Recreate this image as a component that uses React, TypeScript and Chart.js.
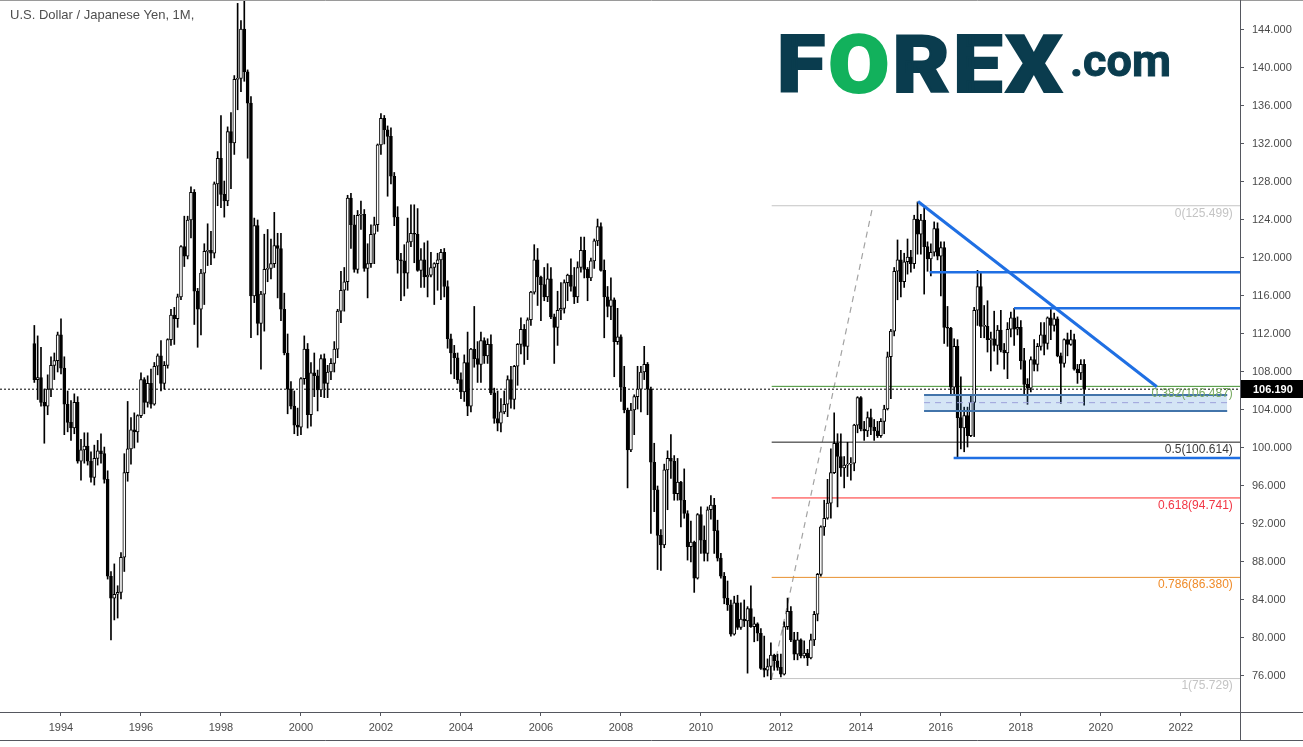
import React, { useEffect, useRef } from 'react';
import { Chart, registerables } from 'chart.js';

Chart.register(...registerables);

// ---------- Data: USD/JPY monthly candles, May 1993 - Aug 2019 ----------
const FIRST_YEAR = 1993;
const FIRST_MONTH = 5;

const open = [
  111.0, 107.2, 107.4, 104.8, 104.4, 106.2, 108.7, 109.2, // 1993
  111.9, 108.4, 104.6, 102.7, 102.1, 104.8, 98.6, 99.8, 100.2, 98.6, 96.9, 98.9, // 1994
  99.7, 99.4, 96.7, 86.5, 84.2, 84.6, 84.8, 88.5, 97.4, 99.9, 101.9, 101.7, // 1995
  103.4, 107.2, 104.8, 106.8, 104.6, 108.6, 109.7, 106.8, 108.7, 111.4, 114.0, 113.6, // 1996
  115.9, 121.2, 120.2, 124.0, 126.9, 116.5, 114.6, 118.4, 120.7, 120.8, 120.5, 127.8, // 1997
  130.5, 126.7, 126.0, 133.3, 132.1, 138.8, 138.9, 144.1, 139.6, 136.3, 116.0, 123.4, // 1998
  113.1, 116.2, 118.8, 118.9, 119.4, 121.3, 121.0, 114.6, 110.0, 106.2, 104.4, 102.4, // 1999
  102.2, 107.3, 110.4, 103.5, 107.9, 107.6, 106.1, 109.4, 106.8, 108.0, 108.9, 110.4, // 2000
  114.4, 116.6, 117.5, 126.3, 123.5, 118.8, 124.5, 124.6, 118.9, 119.4, 122.5, 123.5, // 2001
  131.9, 134.7, 133.5, 132.8, 128.6, 124.3, 119.8, 119.7, 118.4, 121.7, 122.6, 122.5, // 2002
  118.7, 119.8, 118.0, 118.2, 119.0, 119.4, 119.8, 120.6, 117.0, 111.5, 110.0, 109.5, // 2003
  107.2, 105.9, 109.0, 104.4, 110.4, 109.4, 108.8, 111.3, 109.7, 110.9, 105.8, 103.1, // 2004
  102.6, 103.8, 104.6, 107.2, 105.1, 108.6, 110.9, 112.5, 110.7, 113.5, 116.4, 119.8, // 2005
  118.0, 117.2, 115.9, 117.8, 113.8, 112.7, 114.5, 114.7, 117.4, 118.2, 117.0, 115.9, // 2006
  119.0, 120.8, 118.8, 117.9, 119.7, 121.8, 123.3, 118.7, 115.9, 114.9, 115.6, 111.2, // 2007
  111.7, 106.4, 104.0, 99.8, 104.0, 105.4, 106.2, 108.0, 108.8, 106.2, 98.5, 95.6, // 2008
  90.8, 89.8, 97.7, 98.9, 98.6, 95.2, 96.4, 94.5, 93.1, 89.6, 90.1, 86.3, // 2009
  93.0, 90.3, 88.9, 93.5, 94.0, 91.3, 88.4, 86.5, 84.2, 83.5, 80.4, 83.7, // 2010
  81.1, 82.0, 81.8, 83.1, 81.2, 81.5, 80.5, 76.8, 76.6, 77.0, 78.2, 77.6, // 2011
  76.9, 76.2, 81.2, 82.8, 79.8, 78.3, 79.8, 78.1, 78.4, 77.9, 79.8, 82.5, // 2012
  86.7, 91.7, 92.6, 94.2, 97.4, 100.5, 99.1, 97.9, 98.2, 98.3, 98.4, 102.4, // 2013
  105.3, 102.0, 101.8, 103.2, 102.2, 101.8, 101.3, 102.8, 104.1, 109.6, 112.3, 118.6, // 2014
  119.8, 117.5, 119.6, 120.1, 119.4, 124.1, 122.5, 124.0, 121.2, 119.9, 120.6, 123.1, // 2015
  120.2, 121.1, 112.7, 112.6, 106.4, 110.7, 103.2, 102.1, 103.4, 101.3, 104.8, 114.5, // 2016
  117.0, 112.8, 112.8, 111.4, 111.5, 110.8, 112.4, 110.3, 110.0, 112.5, 113.7, 112.5, // 2017
  112.7, 109.2, 106.7, 106.3, 109.3, 108.8, 110.7, 111.9, 111.0, 113.7, 112.9, 113.6, // 2018
  109.7, 108.9, 111.4, 110.9, 111.4, 108.3, 107.9, 108.8, // 2019
];

const high = [
  112.9, 111.8, 110.6, 106.2, 107.7, 109.6, 110.0, 112.2, // 1993
  113.6, 109.6, 106.0, 105.0, 105.7, 105.4, 100.9, 101.6, 101.6, 99.6, 100.3, 100.8, // 1994
  101.5, 100.1, 97.6, 87.0, 87.8, 85.5, 89.0, 99.4, 104.9, 103.2, 103.7, 103.5, // 1995
  107.9, 107.4, 107.6, 108.3, 109.0, 109.9, 111.3, 109.1, 111.5, 114.6, 114.8, 116.2, // 1996
  121.3, 124.4, 124.4, 127.5, 127.2, 116.8, 118.8, 121.5, 123.6, 122.8, 128.0, 131.2, // 1997
  135.0, 128.1, 133.8, 135.3, 139.2, 146.8, 145.0, 147.7, 139.8, 137.0, 124.2, 124.0, // 1998
  116.5, 122.5, 123.0, 122.0, 124.8, 122.6, 122.6, 116.3, 112.0, 107.0, 106.0, 104.2, // 1999
  107.4, 111.8, 111.0, 109.0, 110.0, 108.2, 109.8, 109.9, 108.7, 109.4, 111.2, 114.6, // 2000
  118.6, 119.0, 126.6, 126.8, 124.5, 125.0, 126.0, 125.1, 121.5, 123.5, 124.3, 132.0, // 2001
  135.2, 135.0, 133.9, 133.7, 129.0, 125.4, 120.5, 121.4, 124.2, 125.6, 125.6, 125.2, // 2002
  121.0, 121.6, 121.8, 120.6, 119.5, 120.5, 120.9, 121.0, 117.6, 112.0, 110.8, 110.0, // 2003
  107.9, 109.8, 112.2, 110.5, 114.9, 111.2, 112.2, 111.6, 111.5, 111.9, 106.3, 106.0, // 2004
  105.2, 106.0, 107.6, 108.6, 108.7, 111.0, 113.7, 113.0, 113.7, 116.5, 121.4, 121.0, // 2005
  118.1, 119.0, 119.4, 119.0, 114.1, 116.5, 117.4, 117.7, 118.3, 119.9, 119.0, 119.6, // 2006
  122.2, 122.2, 119.0, 120.0, 122.0, 124.1, 123.7, 119.8, 117.0, 117.9, 115.8, 114.7, // 2007
  111.9, 108.6, 104.2, 104.7, 105.6, 108.6, 108.6, 110.7, 109.0, 106.4, 100.5, 96.0, // 2008
  91.4, 98.3, 99.7, 101.4, 99.2, 98.9, 96.5, 97.8, 93.4, 92.3, 90.2, 93.1, // 2009
  93.8, 91.8, 93.8, 95.0, 94.7, 92.4, 88.9, 86.9, 86.0, 84.0, 84.4, 84.5, // 2010
  83.7, 84.0, 83.3, 85.5, 82.2, 81.6, 81.0, 80.2, 77.8, 79.5, 78.3, 78.3, // 2011
  78.3, 81.7, 84.2, 83.3, 80.6, 80.6, 79.9, 79.7, 78.8, 80.4, 82.8, 86.8, // 2012
  91.8, 94.5, 96.7, 99.9, 103.7, 101.5, 101.5, 99.1, 100.6, 99.0, 102.5, 105.4, // 2013
  105.4, 102.8, 103.8, 104.1, 103.0, 102.8, 103.1, 104.5, 110.1, 112.5, 119.0, 121.9, // 2014
  120.8, 120.5, 122.0, 120.8, 124.5, 125.9, 124.6, 125.3, 121.7, 121.5, 123.8, 123.7, // 2015
  121.7, 121.7, 114.9, 112.7, 111.5, 111.4, 107.5, 104.3, 104.3, 105.5, 114.8, 118.7, // 2016
  118.6, 115.0, 115.5, 112.2, 114.4, 112.9, 114.5, 111.0, 113.2, 114.3, 114.7, 113.8, // 2017
  113.4, 110.5, 107.3, 109.6, 111.4, 111.0, 113.2, 113.2, 113.8, 114.6, 114.2, 113.8, // 2018
  110.0, 111.5, 112.1, 112.4, 112.0, 108.8, 109.3, 109.3, // 2019
];

const low = [
  106.9, 105.1, 104.4, 100.5, 103.5, 105.4, 107.2, 108.0, // 1993
  107.8, 101.4, 101.7, 100.8, 101.5, 98.4, 96.6, 98.4, 98.2, 96.4, 96.1, 98.2, // 1994
  98.4, 96.3, 86.2, 79.8, 81.9, 82.1, 84.1, 87.0, 96.5, 98.3, 100.0, 100.6, // 1995
  103.2, 103.6, 104.3, 104.2, 104.5, 107.7, 106.0, 106.2, 108.4, 110.8, 110.9, 112.7, // 1996
  115.6, 119.1, 119.9, 122.1, 113.0, 110.6, 111.9, 115.1, 119.2, 119.3, 120.0, 125.5, // 1997
  125.3, 124.3, 125.5, 127.3, 130.9, 135.6, 137.5, 138.6, 130.5, 111.6, 115.3, 111.9, // 1998
  108.3, 112.3, 117.5, 117.8, 119.0, 115.8, 113.4, 109.8, 103.6, 104.1, 101.5, 101.3, // 1999
  101.4, 106.7, 102.1, 102.3, 105.4, 103.9, 105.4, 105.3, 105.3, 107.2, 108.0, 109.5, // 2000
  113.2, 114.4, 116.6, 121.0, 118.5, 118.4, 123.0, 118.6, 115.8, 119.0, 119.4, 122.8, // 2001
  130.9, 132.0, 126.5, 127.8, 123.4, 118.4, 115.5, 116.0, 116.8, 121.2, 119.5, 118.6, // 2002
  116.9, 116.9, 115.9, 118.0, 115.1, 116.6, 115.6, 115.9, 110.5, 107.8, 107.3, 106.8, // 2003
  105.2, 104.9, 103.4, 103.8, 108.5, 106.9, 106.9, 108.9, 108.9, 105.6, 102.6, 101.8, // 2004
  101.7, 103.6, 103.3, 104.2, 104.1, 106.6, 109.9, 108.8, 109.3, 112.9, 116.2, 115.0, // 2005
  113.4, 115.5, 115.4, 113.6, 108.9, 110.8, 113.5, 114.2, 115.5, 116.5, 115.2, 115.3, // 2006
  118.5, 117.9, 115.5, 117.6, 118.9, 121.3, 118.6, 111.6, 113.8, 113.5, 107.5, 110.9, // 2007
  104.9, 103.7, 95.8, 99.6, 101.4, 104.1, 103.8, 107.2, 103.5, 91.0, 93.3, 87.2, // 2008
  87.1, 89.5, 93.5, 96.8, 94.5, 94.5, 91.7, 92.6, 88.2, 88.0, 84.8, 86.2, // 2009
  88.9, 88.1, 88.1, 92.5, 88.9, 88.1, 86.3, 83.6, 82.9, 80.2, 80.3, 80.9, // 2010
  80.9, 81.2, 76.3, 81.1, 79.6, 79.7, 76.7, 75.9, 76.0, 75.6, 76.6, 76.6, // 2011
  75.9, 76.1, 80.9, 79.6, 77.7, 77.7, 77.9, 77.9, 77.1, 77.8, 79.2, 81.8, // 2012
  86.5, 90.8, 92.5, 92.6, 97.3, 93.8, 97.0, 95.8, 97.0, 96.6, 97.6, 101.6, // 2013
  101.8, 100.8, 101.2, 101.4, 100.8, 101.1, 101.1, 101.5, 104.0, 105.2, 111.8, 115.6, // 2014
  115.9, 116.9, 118.3, 118.5, 118.9, 120.4, 120.4, 116.2, 118.6, 118.1, 120.2, 119.8, // 2015
  116.0, 111.0, 110.7, 105.5, 105.6, 99.0, 99.9, 99.6, 100.1, 101.2, 101.2, 112.9, // 2016
  111.6, 111.6, 110.1, 108.1, 110.2, 108.8, 110.1, 108.3, 107.3, 111.7, 110.8, 111.9, // 2017
  108.3, 105.6, 104.6, 105.9, 108.1, 108.1, 110.3, 109.8, 110.4, 111.4, 112.3, 109.6, // 2018
  104.7, 108.5, 109.7, 110.8, 108.2, 106.8, 107.2, 104.5, // 2019
];

const close = [
  107.2, 107.4, 104.8, 104.4, 106.2, 108.7, 109.2, 111.9, // 1993
  108.4, 104.6, 102.7, 102.1, 104.8, 98.6, 99.8, 100.2, 98.6, 96.9, 98.9, 99.7, // 1994
  99.4, 96.7, 86.5, 84.2, 84.6, 84.8, 88.5, 97.4, 99.9, 101.9, 101.7, 103.4, // 1995
  107.2, 104.8, 106.8, 104.6, 108.6, 109.7, 106.8, 108.7, 111.4, 114.0, 113.6, 115.9, // 1996
  121.2, 120.2, 124.0, 126.9, 116.5, 114.6, 118.4, 120.7, 120.8, 120.5, 127.8, 130.5, // 1997
  126.7, 126.0, 133.3, 132.1, 138.8, 138.9, 144.1, 139.6, 136.3, 116.0, 123.4, 113.1, // 1998
  116.2, 118.8, 118.9, 119.4, 121.3, 121.0, 114.6, 110.0, 106.2, 104.4, 102.4, 102.2, // 1999
  107.3, 110.4, 103.5, 107.9, 107.6, 106.1, 109.4, 106.8, 108.0, 108.9, 110.4, 114.4, // 2000
  116.6, 117.5, 126.3, 123.5, 118.8, 124.5, 124.6, 118.9, 119.4, 122.5, 123.5, 131.9, // 2001
  134.7, 133.5, 132.8, 128.6, 124.3, 119.8, 119.7, 118.4, 121.7, 122.6, 122.5, 118.7, // 2002
  119.8, 118.0, 118.2, 119.0, 119.4, 119.8, 120.6, 117.0, 111.5, 110.0, 109.5, 107.2, // 2003
  105.9, 109.0, 104.4, 110.4, 109.4, 108.8, 111.3, 109.7, 110.9, 105.8, 103.1, 102.6, // 2004
  103.8, 104.6, 107.2, 105.1, 108.6, 110.9, 112.5, 110.7, 113.5, 116.4, 119.8, 118.0, // 2005
  117.2, 115.9, 117.8, 113.8, 112.7, 114.5, 114.7, 117.4, 118.2, 117.0, 115.9, 119.0, // 2006
  120.8, 118.8, 117.9, 119.7, 121.8, 123.3, 118.7, 115.9, 114.9, 115.6, 111.2, 111.7, // 2007
  106.4, 104.0, 99.8, 104.0, 105.4, 106.2, 108.0, 108.8, 106.2, 98.5, 95.6, 90.8, // 2008
  89.8, 97.7, 98.9, 98.6, 95.2, 96.4, 94.5, 93.1, 89.6, 90.1, 86.3, 93.0, // 2009
  90.3, 88.9, 93.5, 94.0, 91.3, 88.4, 86.5, 84.2, 83.5, 80.4, 83.7, 81.1, // 2010
  82.0, 81.8, 83.1, 81.2, 81.5, 80.5, 76.8, 76.6, 77.0, 78.2, 77.6, 76.9, // 2011
  76.2, 81.2, 82.8, 79.8, 78.3, 79.8, 78.1, 78.4, 77.9, 79.8, 82.5, 86.7, // 2012
  91.7, 92.6, 94.2, 97.4, 100.5, 99.1, 97.9, 98.2, 98.3, 98.4, 102.4, 105.3, // 2013
  102.0, 101.8, 103.2, 102.2, 101.8, 101.3, 102.8, 104.1, 109.6, 112.3, 118.6, 119.8, // 2014
  117.5, 119.6, 120.1, 119.4, 124.1, 122.5, 124.0, 121.2, 119.9, 120.6, 123.1, 120.2, // 2015
  121.1, 112.7, 112.6, 106.4, 110.7, 103.2, 102.1, 103.4, 101.3, 104.8, 114.5, 117.0, // 2016
  112.8, 112.8, 111.4, 111.5, 110.8, 112.4, 110.3, 110.0, 112.5, 113.7, 112.5, 112.7, // 2017
  109.2, 106.7, 106.3, 109.3, 108.8, 110.7, 111.9, 111.0, 113.7, 112.9, 113.6, 109.7, // 2018
  108.9, 111.4, 110.9, 111.4, 108.3, 107.9, 108.8, 106.19, // 2019
];

// Axis ticks
const yearTicks = [1994, 1996, 1998, 2000, 2002, 2004, 2006, 2008, 2010, 2012, 2014, 2016, 2018, 2020, 2022];
const priceTicks = [76, 80, 84, 88, 92, 96, 100, 104, 108, 112, 116, 120, 124, 128, 132, 136, 140, 144];

// Fibonacci retracement (Oct 2011 low -> Jun 2015 high)
const fibRatios = ['0', '0.382', '0.5', '0.618', '0.786', '1'];
const fibPrices = [125.499, 106.487, 100.614, 94.741, 86.38, 75.729];
const fibLineColors = ['#c4c4c4', '#3f8f2f', '#1a1a1a', '#ff2a2a', '#e8902f', '#c4c4c4'];
const fibTextColors = ['#c4c4c4', '#79aa62', '#3a3a3a', '#f23645', '#f08c2a', '#c4c4c4'];
const fibStartTime = 2011.77;
const fibTrendTimes = [2011.77, 2014.3];

// Drawn trend lines / levels
const downTrendTimes = [2015.43, 2021.4];
const downTrendPrices = [125.95, 106.45];
const levelPrices = [118.5, 114.72, 98.95];
const levelStartTimes = [2015.72, 2017.83, 2016.32];
const zoneTimes = [2015.58, 2023.16];
const zonePrices = [103.9, 105.58, 104.77]; // bottom, top, middle

const X_MIN = 1992.475;
const X_MAX = 2023.48;
const Y_MIN = 72.21;
const Y_MAX = 147.05;
const FONT = '"Liberation Sans", Arial, sans-serif';

const lastPrice = close[close.length - 1];
const monthTimes = close.map((_, i) => FIRST_YEAR + (FIRST_MONTH - 1 + i) / 12);

const seg = (x0: number, y0: number, x1: number, y1: number) => [
  { x: x0, y: y0 },
  { x: x1, y: y1 },
];

const lineDs = (data: any[], color: string, width: number, order: number, extra: any = {}) => ({
  type: 'line' as const,
  data,
  borderColor: color,
  borderWidth: width,
  pointRadius: 0,
  pointHoverRadius: 0,
  tension: 0,
  fill: false,
  order,
  ...extra,
});

const overlayPlugin = {
  id: 'overlay',
  afterDraw(chart: any) {
    const { ctx, scales, chartArea } = chart;
    const xs = scales.x;
    const ys = scales.y;
    const W = chart.width;
    ctx.save();
    // fib labels
    ctx.font = `12px ${FONT}`;
    ctx.textAlign = 'right';
    ctx.textBaseline = 'middle';
    const lx = xs.getPixelForValue(2023.3);
    fibRatios.forEach((r, i) => {
      ctx.fillStyle = fibTextColors[i];
      ctx.fillText(`${r}(${fibPrices[i].toFixed(3)})`, lx, ys.getPixelForValue(fibPrices[i]) + 7.5);
    });
    // frame lines
    ctx.lineWidth = 1;
    ctx.strokeStyle = '#9a9a9a';
    ctx.beginPath();
    ctx.moveTo(0, 0.5);
    ctx.lineTo(W, 0.5);
    ctx.stroke();
    ctx.strokeStyle = '#55575f';
    ctx.beginPath();
    ctx.moveTo(0, chartArea.bottom + 0.5);
    ctx.lineTo(W, chartArea.bottom + 0.5);
    ctx.moveTo(0, chartArea.bottom + 28.5);
    ctx.lineTo(W, chartArea.bottom + 28.5);
    ctx.moveTo(chartArea.right + 0.5, 0);
    ctx.lineTo(chartArea.right + 0.5, chartArea.bottom + 28);
    ctx.stroke();
    // last price tag
    const py = ys.getPixelForValue(lastPrice);
    ctx.fillStyle = '#000';
    ctx.fillRect(chartArea.right + 1, Math.round(py) - 9, W - chartArea.right - 1, 18);
    ctx.fillStyle = '#fff';
    ctx.font = `bold 11px ${FONT}`;
    ctx.textAlign = 'left';
    ctx.fillText(lastPrice.toFixed(3), chartArea.right + 13, Math.round(py) + 0.5);
    ctx.restore();
  },
};

export default function App() {
  const canvasRef = useRef<HTMLCanvasElement | null>(null);

  useEffect(() => {
    document.body.style.margin = '0';
    const canvas = canvasRef.current;
    if (!canvas) return;

    const n = Math.min(open.length, high.length, low.length, close.length);
    const wickData = [];
    const bodyData = [];
    const bodyColors = [];
    for (let i = 0; i < n; i++) {
      wickData.push({ x: monthTimes[i], y: [low[i], high[i]] });
      bodyData.push({ x: monthTimes[i], y: [open[i], close[i]] });
      bodyColors.push(close[i] >= open[i] ? '#ffffff' : '#000000');
    }

    const blue = '#1f6fe3';
    const datasets: any[] = [
      lineDs(seg(zoneTimes[0], zonePrices[1], zoneTimes[1], zonePrices[1]), '#4274aa', 2, 0),
      lineDs(seg(zoneTimes[0], zonePrices[0], zoneTimes[1], zonePrices[0]), '#4274aa', 2, 0, {
        fill: '-1',
        backgroundColor: 'rgba(60,135,210,0.22)',
      }),
      lineDs(seg(zoneTimes[0], zonePrices[2], zoneTimes[1], zonePrices[2]), '#b7a6dc', 1, 0, {
        borderDash: [6, 5],
      }),
      lineDs(seg(downTrendTimes[0], downTrendPrices[0], downTrendTimes[1], downTrendPrices[1]), blue, 3, 1),
      ...levelPrices.map((p, i) => lineDs(seg(levelStartTimes[i], p, X_MAX, p), blue, 2.5, 1)),
      {
        type: 'bar',
        data: bodyData,
        backgroundColor: bodyColors,
        borderColor: '#000',
        borderWidth: 1,
        borderSkipped: false,
        barThickness: 3,
        minBarLength: 1,
        grouped: false,
        order: 2,
      },
      {
        type: 'bar',
        data: wickData,
        backgroundColor: '#000',
        borderWidth: 0,
        barThickness: 1,
        grouped: false,
        order: 3,
      },
      ...fibPrices.map((p, i) => lineDs(seg(fibStartTime, p, X_MAX, p), fibLineColors[i], 1, 4)),
      lineDs(seg(fibTrendTimes[0], fibPrices[5], fibTrendTimes[1], fibPrices[0]), '#a3a3a3', 1.2, 4, {
        borderDash: [6, 5],
      }),
      lineDs(seg(X_MIN, lastPrice, X_MAX, lastPrice), '#000', 1, 4, { borderDash: [2, 2] }),
    ];

    const chart = new Chart(canvas, {
      type: 'bar',
      data: { datasets },
      options: {
        responsive: false,
        animation: false,
        devicePixelRatio: 1,
        events: [],
        layout: { padding: { top: 1, bottom: 7, left: 0, right: 0 } },
        plugins: {
          legend: { display: false },
          tooltip: { enabled: false },
          title: { display: false },
        },
        scales: {
          x: {
            type: 'linear',
            position: 'bottom',
            min: X_MIN,
            max: X_MAX,
            offset: false,
            grid: { display: true, offset: false, drawOnChartArea: false, drawTicks: true, tickLength: 4, color: '#55575f' },
            border: { display: true, color: '#55575f' },
            ticks: {
              color: '#4a4a4a',
              font: { family: FONT, size: 11 },
              padding: 5,
              maxRotation: 0,
              autoSkip: false,
              callback: (v: any) => String(v),
            },
            afterBuildTicks: (axis: any) => {
              axis.ticks = yearTicks.map((v) => ({ value: v }));
            },
            afterFit: (axis: any) => {
              axis.height = 28;
              axis.paddingLeft = 0;
              axis.paddingRight = 0;
            },
          },
          y: {
            type: 'linear',
            position: 'right',
            min: Y_MIN,
            max: Y_MAX,
            beginAtZero: false,
            grid: { display: true, drawOnChartArea: false, drawTicks: true, tickLength: 4, color: '#55575f' },
            border: { display: true, color: '#55575f' },
            ticks: {
              color: '#4a4a4a',
              font: { family: FONT, size: 11 },
              padding: 8,
              autoSkip: false,
              callback: (v: any) => Number(v).toFixed(3),
            },
            afterBuildTicks: (axis: any) => {
              axis.ticks = priceTicks.map((v) => ({ value: v }));
            },
            afterFit: (axis: any) => {
              axis.width = 63;
              axis.paddingTop = 0;
              axis.paddingBottom = 0;
            },
          },
        },
      } as any,
      plugins: [overlayPlugin],
    });

    return () => chart.destroy();
  }, []);

  return (
    <div style={{ position: 'relative', width: 1303, height: 747, background: '#fff', overflow: 'hidden' }}>
      <canvas ref={canvasRef} width={1303} height={747} style={{ display: 'block', position: 'absolute', left: 0, top: 0 }} />
      <div
        style={{
          position: 'absolute',
          left: 10,
          top: 7,
          fontFamily: FONT,
          fontSize: 13,
          color: '#4e4e4e',
          whiteSpace: 'nowrap',
        }}
      >
        U.S. Dollar / Japanese Yen, 1M,
      </div>
      <div
        style={{
          position: 'absolute',
          left: 777,
          top: 25,
          fontFamily: 'Roboto, "Open Sans", sans-serif',
          fontWeight: 900,
          fontSize: 80,
          lineHeight: 1,
          color: '#0a3c4e',
          letterSpacing: 3,
          whiteSpace: 'nowrap',
          WebkitTextStroke: '2px #0a3c4e',
          transform: 'scaleX(1.1)',
          transformOrigin: 'left top',
        }}
      >
        F<span style={{ color: '#12b15c', WebkitTextStroke: '2px #12b15c' }}>O</span>REX
      </div>
      <div
        style={{
          position: 'absolute',
          left: 1070,
          top: 38,
          fontFamily: 'Roboto, "Open Sans", sans-serif',
          fontWeight: 700,
          fontSize: 45,
          lineHeight: 1,
          color: '#0a3c4e',
          whiteSpace: 'nowrap',
          WebkitTextStroke: '1px #0a3c4e',
        }}
      >
        .com
      </div>
    </div>
  );
}
